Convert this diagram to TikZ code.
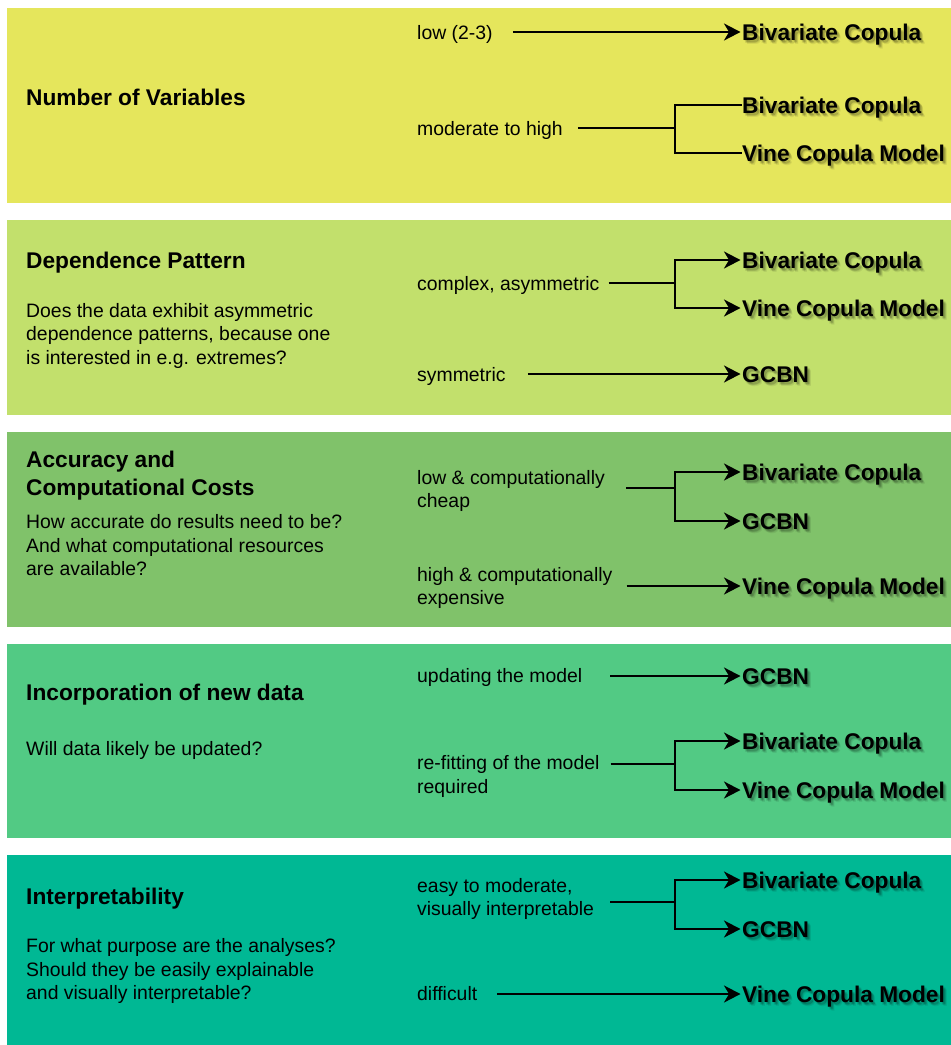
\documentclass[tikz,border=0pt]{standalone}
\usepackage{fontspec}
\setmainfont{Liberation Sans}
\usetikzlibrary{arrows.meta}

\definecolor{bandA}{RGB}{229,230,92}
\definecolor{bandB}{RGB}{194,224,108}
\definecolor{bandC}{RGB}{128,194,106}
\definecolor{bandD}{RGB}{82,202,132}
\definecolor{bandE}{RGB}{0,184,148}

% result label with a soft drop shadow behind it
\newcommand\resnode[3]{%
  \foreach \dx/\dy [count=\k] in {1/1.5,2/2.5,3/3.5,2.5/2,1.5/3,3.5/4}
    \node[res, text opacity=0.07, xshift=\dx pt, yshift=-\dy pt] (#1s\k) at (#3) {#2};
  \node[res] (#1) at (#3) {#2};
}

\begin{document}
\begin{tikzpicture}[x=1pt,y=-1pt,
  head/.style={anchor=west, inner sep=0pt, align=left,
    font=\bfseries\fontsize{22.7}{28}\selectfont,
    execute at begin node=\strut, execute at end node=\strut},
  desc/.style={anchor=west, inner sep=0pt, align=left,
    font=\fontsize{19.4}{23.5}\selectfont,
    execute at begin node=\strut, execute at end node=\strut},
  res/.style={anchor=west, inner sep=0pt, text height=16.3pt, text depth=0pt,
    font=\bfseries\fontsize{22.7}{28}\selectfont},
  link/.style={line width=2pt},
  arr/.style={link, shorten >=1.5pt, -{Stealth[length=16.5pt,width=17pt,inset=5pt]}},
]
\useasboundingbox (0,0) rectangle (951,1045);

% coloured bands
\fill[bandA] (7,8)   rectangle (951,203);
\fill[bandB] (7,220) rectangle (951,415);
\fill[bandC] (7,432) rectangle (951,627);
\fill[bandD] (7,644) rectangle (951,838);
\fill[bandE] (7,855) rectangle (951,1045);

% ---- Number of Variables
\node[head] (h1) at (26,99.4) {Number of Variables};
\node[desc] (o1a) at (417,34.3) {low (2-3)};
\node[desc] (o1b) at (417,130.3) {moderate to high};
\resnode{r1a}{Bivariate Copula}{742,32}
\resnode{r1b}{Bivariate Copula}{742,105}
\resnode{r1c}{Vine Copula Model}{742,153}
\coordinate (j1) at (675,128);
\draw[arr] ([xshift=20pt]o1a.east |- r1a.west) -- (r1a.west);
\draw[link] ([xshift=15pt]o1b.east |- j1) -- (j1);
\draw[link] (j1) |- (r1b.west);
\draw[link] (j1) |- (r1c.west);

% ---- Dependence Pattern
\node[head] (h2) at (26,262.4) {Dependence Pattern};
\node[desc] (d2) at (26,337.3) {Does the data exhibit asymmetric\\dependence patterns, because one\\is interested in e.g. extremes?};
\node[desc] (o2a) at (417,285.3) {complex, asymmetric};
\node[desc] (o2b) at (417,376.3) {symmetric};
\resnode{r2a}{Bivariate Copula}{742,260}
\resnode{r2b}{Vine Copula Model}{742,308}
\resnode{r2c}{GCBN}{742,374}
\coordinate (j2) at (675,283);
\draw[link] ([xshift=9pt]o2a.east |- j2) -- (j2);
\draw[arr] (j2) |- (r2a.west);
\draw[arr] (j2) |- (r2b.west);
\draw[arr] ([xshift=22pt]o2b.east |- r2c.west) -- (r2c.west);

% ---- Accuracy and Computational Costs
\node[head] (h3) at (26,477.4) {Accuracy and\\Computational Costs};
\node[desc] (d3) at (26,548.8) {How accurate do results need to be?\\And what computational resources\\are available?};
\node[desc] (o3a) at (417,492.5) {low \& computationally\\cheap};
\node[desc] (o3b) at (417,589.5) {high \& computationally\\expensive};
\resnode{r3a}{Bivariate Copula}{742,472}
\resnode{r3b}{GCBN}{742,521}
\resnode{r3c}{Vine Copula Model}{742,586}
\coordinate (j3) at (675,488);
\draw[link] ([xshift=21pt]o3a.east |- j3) -- (j3);
\draw[arr] (j3) |- (r3a.west);
\draw[arr] (j3) |- (r3b.west);
\draw[arr] ([xshift=14pt]o3b.east |- r3c.west) -- (r3c.west);

% ---- Incorporation of new data
\node[head] (h4) at (26,694.4) {Incorporation of new data};
\node[desc] (d4) at (26,750.3) {Will data likely be updated?};
\node[desc] (o4a) at (417,677.3) {updating the model};
\node[desc] (o4b) at (417,777.8) {re-fitting of the model\\required};
\resnode{r4a}{GCBN}{742,676}
\resnode{r4b}{Bivariate Copula}{742,741}
\resnode{r4c}{Vine Copula Model}{742,790}
\coordinate (j4) at (675,764);
\draw[arr] ([xshift=28pt]o4a.east |- r4a.west) -- (r4a.west);
\draw[link] ([xshift=11pt]o4b.east |- j4) -- (j4);
\draw[arr] (j4) |- (r4b.west);
\draw[arr] (j4) |- (r4c.west);

% ---- Interpretability
\node[head] (h5) at (26,898.4) {Interpretability};
\node[desc] (d5) at (26,972.8) {For what purpose are the analyses?\\Should they be easily explainable\\and visually interpretable?};
\node[desc] (o5a) at (417,900.3) {easy to moderate,\\visually interpretable};
\node[desc] (o5b) at (417,995.3) {difficult};
\resnode{r5a}{Bivariate Copula}{742,880}
\resnode{r5b}{GCBN}{742,929}
\resnode{r5c}{Vine Copula Model}{742,994}
\coordinate (j5) at (675,902);
\draw[link] ([xshift=16pt]o5a.east |- j5) -- (j5);
\draw[arr] (j5) |- (r5a.west);
\draw[arr] (j5) |- (r5b.west);
\draw[arr] ([xshift=20pt]o5b.east |- r5c.west) -- (r5c.west);
\end{tikzpicture}
\end{document}
